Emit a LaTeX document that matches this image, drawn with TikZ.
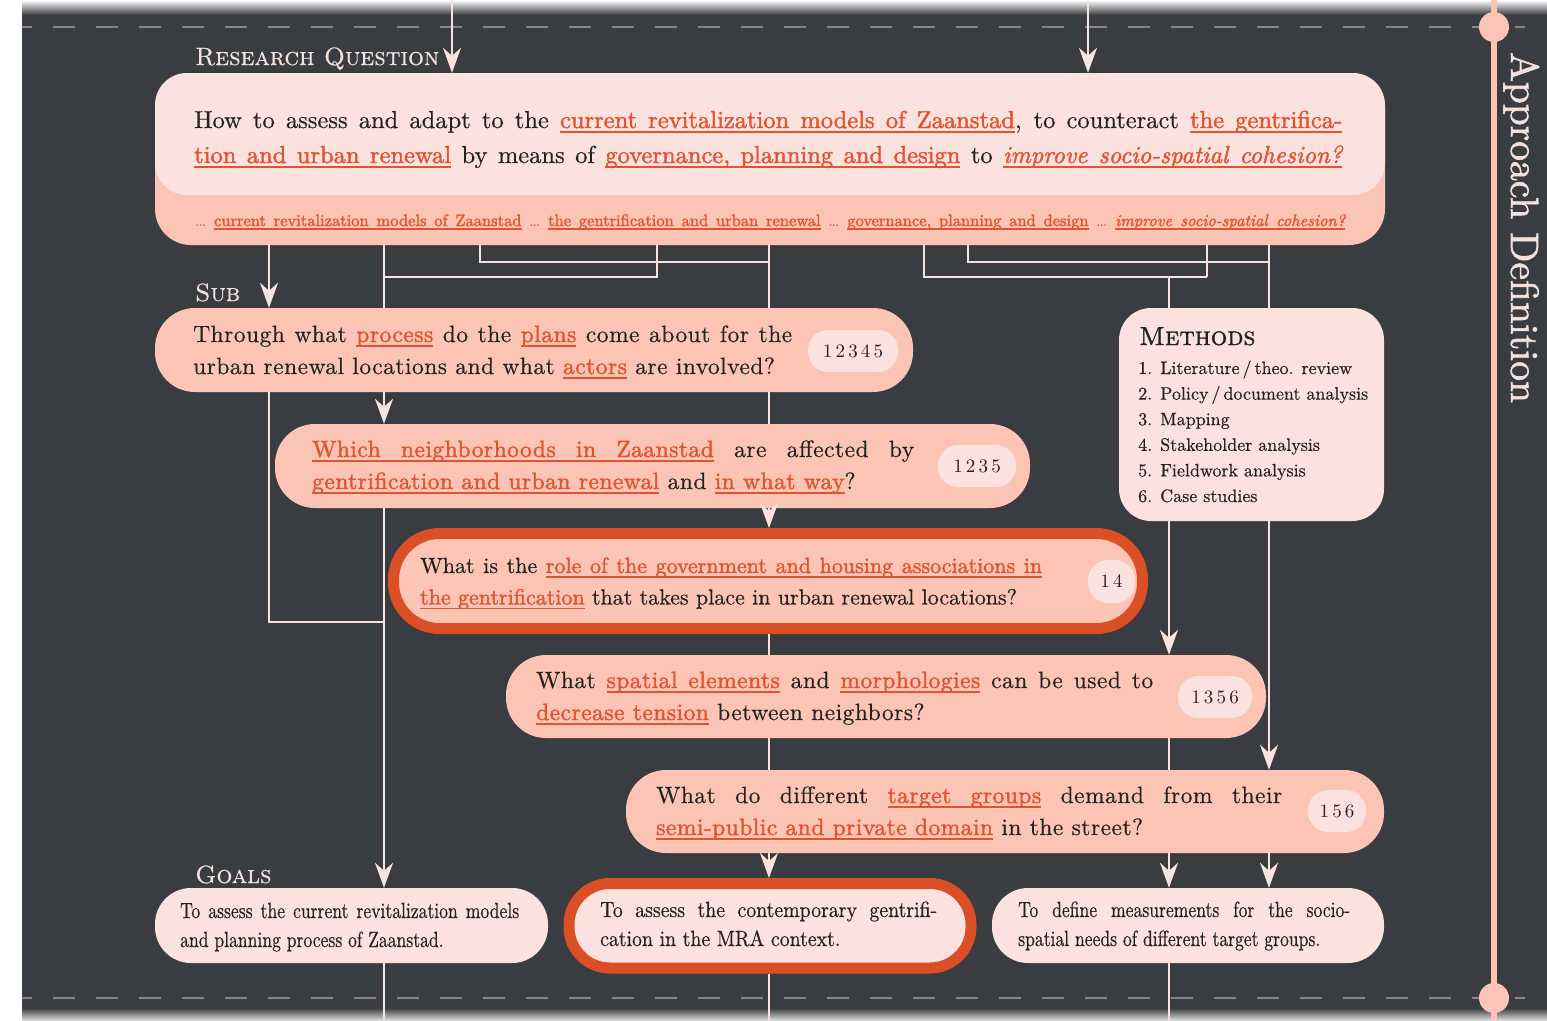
\documentclass[tikz,border=0pt]{standalone}
\usepackage{fontspec}
\setmainfont{lmroman10-regular.otf}[BoldFont=lmroman10-bold.otf,ItalicFont=lmroman10-italic.otf,BoldItalicFont=lmroman10-bolditalic.otf,SmallCapsFont=lmromancaps10-regular.otf]
\usetikzlibrary{arrows.meta,calc}

\definecolor{bgdark}{HTML}{393C40}
\definecolor{salmon}{HTML}{FBC4B4}
\definecolor{lightpink}{HTML}{FBE2DE}
\definecolor{hot}{HTML}{DB4F27}
\definecolor{acc}{HTML}{DE5631}
\definecolor{wire}{HTML}{F9E3DF}
\definecolor{labelc}{HTML}{F3E1DC}
\definecolor{ink}{HTML}{222222}
\definecolor{dashgray}{HTML}{8C8586}

% hand-made underline that stretches with justified spaces
\newdimen\uldp \uldp=4.5pt
\newdimen\ulth \ulth=1.4pt
\newsavebox\ulbox
\makeatletter
\def\ulword#1{\sbox\ulbox{#1}\rlap{\rule[-\uldp]{\wd\ulbox}{\ulth}}\usebox\ulbox}
\def\ulspace{\leaders\hrule height \dimexpr\ulth-\uldp\relax depth \uldp\hskip\fontdimen2\font plus\fontdimen3\font minus\fontdimen4\font\relax}
\def\hlt@a#1 #2\@nil{\ulword{#1}\ifx\relax#2\relax\else\ulspace\hlt@a#2\@nil\fi}
\newcommand{\hlt}[1]{{\color{acc}\addfontfeatures{FakeBold=1.8}\hlt@a#1 \@nil}}
\makeatother

\newcommand{\rqfont}{\fontsize{24.5}{35}\selectfont\addfontfeatures{FakeBold=0.4}}
\newcommand{\rqsmallfont}{\fontsize{16.5}{20}\selectfont}
\newcommand{\subqfont}{\fontsize{23.5}{32}\selectfont\addfontfeatures{LetterSpace=2,FakeBold=0.4}}
\newcommand{\hiqfont}{\fontsize{22}{31.5}\selectfont\addfontfeatures{FakeBold=0.4}}
\newcommand{\goalfont}{\fontsize{22}{29}\selectfont\addfontfeatures{FakeStretch=0.8,FakeBold=0.4}}
\newcommand{\goalwfont}{\fontsize{22}{29}\selectfont\addfontfeatures{FakeStretch=0.9,FakeBold=0.4}}
\newcommand{\methfont}{\fontsize{18}{25.6}\selectfont\addfontfeatures{FakeBold=0.4}}
\newcommand{\badgefont}{\fontsize{19}{22}\selectfont}
\newcommand{\seclfont}{\fontsize{25}{30}\selectfont\scshape\addfontfeatures{FakeBold=0.6}}
\newcommand{\barfont}{\fontsize{39.5}{42}\selectfont\addfontfeatures{FakeBold=1.5}}

\tikzset{
  wire/.style={draw=wire, line width=2.5pt},
  arr/.style={wire, -{Stealth[length=25pt,width=18pt,inset=8pt]}},
  qbox/.style={rectangle, rounded corners=40pt, fill=salmon, inner sep=0pt},
  lbox/.style={rectangle, rounded corners=36pt, fill=lightpink, inner sep=0pt},
  hibox/.style={draw=hot, line width=11pt, outer sep=5.5pt},
  badge/.style={rectangle, rounded corners=20pt, fill=lightpink, inner sep=0pt, minimum height=42pt, font=\badgefont, text=ink},
  qtext/.style={anchor=base west, inner sep=0pt, text=ink},
  seclabel/.style={anchor=base west, inner sep=0pt, text=labelc, font=\seclfont},
  dashline/.style={draw=dashgray, line width=2pt, dash pattern=on 22pt off 21pt, dash phase=12pt},
  barline/.style={draw=salmon, line width=6pt},
  bardot/.style={circle, fill=salmon, minimum size=30pt, inner sep=0pt},
}

\begin{document}
\begin{tikzpicture}[x=1pt,y=-1pt]
\useasboundingbox (0,0) rectangle (1547,1020);
% background
\fill[white] (0,0) rectangle (1547,1020);
\fill[bgdark] (22,0) rectangle (1547,1020);
\shade[top color=white, bottom color=bgdark] (22,0) rectangle (1547,15);
\shade[top color=bgdark, bottom color=black!15] (22,1008) rectangle (1547,1020);

% named coordinates
\coordinate (cA) at (269,0);
\coordinate (cB) at (384,0);
\coordinate (cC) at (480,0);
\coordinate (cD) at (657,0);
\coordinate (cE) at (769,0);
\coordinate (cF) at (924,0);
\coordinate (cG) at (968,0);
\coordinate (cH) at (1169,0);
\coordinate (cI) at (1207,0);
\coordinate (cJ) at (1269,0);
\coordinate (cTL) at (452,0);
\coordinate (cTR) at (1088,0);
\coordinate (hA) at (0,262);
\coordinate (hB) at (0,277);
\coordinate (hC) at (0,622);
\coordinate (topedge) at (0,0);
\coordinate (bot) at (0,1020);
\coordinate (dashL1) at (22,27);
\coordinate (dashR1) at (1525,27);
\coordinate (dashL2) at (22,998);
\coordinate (dashR2) at (1525,998);
\coordinate (barTop) at (1494,0);
\coordinate (barBot) at (1494,1020);

% frame lines
\draw[dashline] (dashL1) -- (dashR1);
\draw[dashline] (dashL2) -- (dashR2);
\draw[barline] (barTop) -- (barBot);
\node[bardot] (dotTop) at (1494,27) {};
\node[bardot] (dotBot) at (1494,998) {};
\node[anchor=base west, inner sep=0pt, rotate=-90, text=labelc, font=\barfont] (approach) at (1511,52) {Approach Definition};

% section labels
\node[seclabel] (lblRQ) at (195,65) {Research Question};
\node[seclabel] (lblSub) at (195,301) {Sub};
\node[seclabel] (lblGoals) at (195,883) {Goals};

% research question box
\node[qbox, rounded corners=36pt, minimum width=1230pt, minimum height=172pt] (rq) at (770,159) {};
\node[lbox, rounded corners=32pt, minimum width=1230pt, minimum height=122pt] (rqin) at (770,134) {};
\node[qtext, font=\rqfont] (trq) at (194,128) {\parbox[t]{1200pt}{%
\makebox[1148pt][s]{How to assess and adapt to the \hlt{current revitalization models of Zaanstad}, to counteract \hlt{the gentrifica-}}\\
\makebox[1148pt][s]{\hlt{tion and urban renewal} by means of \hlt{governance, planning and design} to {\itshape\hlt{improve socio-spatial cohesion?}}}}};
\node[qtext, font=\rqsmallfont, text=acc] (trq2) at (195,226) {\uldp=3.5pt\relax\makebox[1150pt][s]{\dots\ \hlt{current revitalization models of Zaanstad} \dots\ \hlt{the gentrification and urban renewal} \dots\ \hlt{governance, planning and design} \dots\ {\itshape\hlt{improve socio-spatial cohesion?}}}};

% sub questions
\node[qbox, minimum width=758pt, minimum height=84pt] (s1) at (534,350) {};
\node[qtext, font=\subqfont] (ts1) at (193,342) {\parbox[t]{640pt}{%
\makebox[599pt][s]{Through what \hlt{process} do the \hlt{plans} come about for the}\\
urban renewal locations and what \hlt{actors} are involved?}};
\node[badge, minimum width=90pt] (b1) at (853,351) {1\,2\,3\,4\,5};

\node[qbox, minimum width=755pt, minimum height=84pt] (s2) at (652.5,466) {};
\node[qtext, font=\subqfont] (ts2) at (312,457) {\parbox[t]{640pt}{%
\makebox[602pt][s]{\hlt{Which neighborhoods in Zaanstad} are affected by}\\
\hlt{gentrification and urban renewal} and \hlt{in what way}?}};
\node[badge, minimum width=78pt] (b2) at (977,466) {1\,2\,3\,5};

\node[qbox, hibox, rounded corners=46pt, minimum width=749pt, minimum height=95pt] (q3) at (768,581) {};
\node[qtext, font=\hiqfont] (tq3) at (420,573) {\parbox[t]{660pt}{%
\makebox[622pt][s]{What is the \hlt{role of the government and housing associations in}}\\
\hlt{the gentrification} that takes place in urban renewal locations?}};
\node[badge, minimum width=47pt, minimum height=43pt] (b3) at (1111.5,581.5) {1\,4};

\node[qbox, minimum width=760pt, minimum height=83pt] (sp) at (886,696.5) {};
\node[qtext, font=\subqfont] (tsp) at (536,688) {\parbox[t]{660pt}{%
\makebox[617pt][s]{What \hlt{spatial elements} and \hlt{morphologies} can be used to}\\
\hlt{decrease tension} between neighbors?}};
\node[badge, minimum width=74pt] (b4) at (1215,697) {1\,3\,5\,6};

\node[qbox, minimum width=758pt, minimum height=83pt] (tg) at (1005,811.5) {};
\node[qtext, font=\subqfont] (ttg) at (656,803) {\parbox[t]{660pt}{%
\makebox[626pt][s]{What do different \hlt{target groups} demand from their}\\
\hlt{semi-public and private domain} in the street?}};
\node[badge, minimum width=58pt] (b5) at (1337,811) {1\,5\,6};

% methods
\node[lbox, rounded corners=32pt, minimum width=265pt, minimum height=213pt] (meth) at (1251.5,414.5) {};
\node[qtext, font=\fontsize{26}{30}\selectfont\scshape\addfontfeatures{FakeBold=1.2}] (tmeth) at (1139,345) {Methods};
\node[qtext, font=\methfont] (tmlist) at (1138,374) {\parbox[t]{240pt}{%
1. Literature\,/\,theo. review\\
2. Policy\,/\,document analysis\\
3. Mapping\\
4. Stakeholder analysis\\
5. Fieldwork analysis\\
6. Case studies}};

% goals
\node[lbox, minimum width=393pt, minimum height=75pt] (g1) at (351.5,925.5) {};
\node[qtext, font=\goalfont] (tg1) at (180,918) {\parbox[t]{360pt}{%
\makebox[339pt][s]{To assess the current revitalization models}\\
and planning process of Zaanstad.}};
\node[lbox, hibox, rounded corners=41pt, minimum width=402pt, minimum height=84.5pt] (g2) at (770,925.75) {};
\node[qtext, font=\goalwfont] (tg2) at (600,917) {\parbox[t]{360pt}{%
\makebox[337pt][s]{To assess the contemporary gentrifi-}\\
cation in the MRA context.}};
\node[lbox, minimum width=392pt, minimum height=75pt] (g3) at (1188,925.5) {};
\node[qtext, font=\goalfont] (tg3) at (1018,917) {\parbox[t]{360pt}{%
\makebox[332pt][s]{To define measurements for the socio-}\\
spatial needs of different target groups.}};

% connectors
\draw[arr] (cTL |- topedge) -- (cTL |- rq.north);
\draw[arr] (cTR |- topedge) -- (cTR |- rq.north);
\draw[arr] (cA |- rq.south) -- (cA |- s1.north);
\draw[wire] (cB |- rq.south) -- (cB |- s1.north);
\draw[wire] (cC |- rq.south) -- (cC |- hA) -- (cE |- hA);
\draw[wire] (cD |- rq.south) -- (cD |- hB) -- (cB |- hB);
\draw[wire] (cE |- rq.south) -- (cE |- s1.north);
\draw[wire] (cF |- rq.south) -- (cF |- hB) -- (cI |- hB);
\draw[wire] (cG |- rq.south) -- (cG |- hA) -- (cJ |- hA);
\draw[wire] (cI |- rq.south) -- (cI |- hB);
\draw[wire] (cH |- hB) -- (cH |- meth.north);
\draw[wire] (cJ |- rq.south) -- (cJ |- meth.north);
\draw[arr] (cB |- s1.south) -- (cB |- s2.north);
\draw[wire] (cE |- s1.south) -- (cE |- s2.north);
\draw[wire] (cA |- s1.south) -- (cA |- hC) -- (cB |- hC);
\draw[arr] (cE |- s2.south) -- (cE |- q3.north);
\draw[arr] (cB |- s2.south) -- (cB |- g1.north);
\draw[wire] (cE |- q3.south) -- (cE |- sp.north);
\draw[arr] (cH |- meth.south) -- (cH |- sp.north);
\draw[arr] (cJ |- meth.south) -- (cJ |- tg.north);
\draw[wire] (cE |- sp.south) -- (cE |- tg.north);
\draw[wire] (cH |- sp.south) -- (cH |- tg.north);
\draw[arr] (cE |- tg.south) -- (cE |- g2.north);
\draw[arr] (cH |- tg.south) -- (cH |- g3.north);
\draw[arr] (cJ |- tg.south) -- (cJ |- g3.north);
\draw[wire] (cB |- g1.south) -- (cB |- bot);
\draw[wire] (cE |- g2.south) -- (cE |- bot);
\draw[wire] (cH |- g3.south) -- (cH |- bot);
\end{tikzpicture}
\end{document}
